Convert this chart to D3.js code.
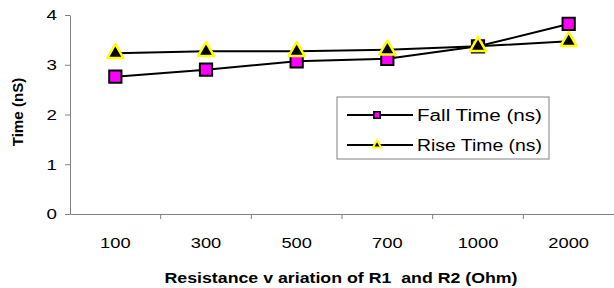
<!DOCTYPE html>
<html>
<head>
<meta charset="utf-8">
<script src="https://cdn.jsdelivr.net/npm/d3@7"></script>
<style>
  body { margin: 0; background: #fff; }
  text { font-family: "Liberation Sans", Arial, sans-serif; white-space: pre; }
</style>
</head>
<body>
<div id="chart"></div>
<script>
// values
const categories = ['100', '300', '500', '700', '1000', '2000'];
const fallTime = [2.76, 2.90, 3.07, 3.12, 3.37, 3.82];
const riseTime = [3.23, 3.27, 3.27, 3.30, 3.37, 3.47];
const yTicks = [0, 1, 2, 3, 4];

const width = 614;
const height = 288;
const margin = { left: 70, right: 0, top: 15, bottom: 74 };

const svg = d3.select('#chart').append('svg')
  .attr('width', width)
  .attr('height', height);

// the reference text is a bit wider than the font, stretch it
const stretch = (sel, factor) => {
  sel.each(function () {
    const len = this.getComputedTextLength();
    d3.select(this)
      .attr('textLength', len * factor)
      .attr('lengthAdjust', 'spacingAndGlyphs');
  });
};

const x = d3.scaleBand()
  .domain(categories)
  .range([margin.left, width - margin.right]);

const y = d3.scaleLinear()
  .domain([0, 4])
  .range([height - margin.bottom, margin.top]);

// axes
const yAxis = svg.append('g')
  .attr('transform', `translate(${margin.left},0)`)
  .call(d3.axisLeft(y).tickValues(yTicks).tickSize(5).tickSizeOuter(0).tickFormat(d3.format('d')));
yAxis.select('.domain').attr('stroke', '#808080');
yAxis.selectAll('.tick line').attr('stroke', '#808080');
yAxis.selectAll('.tick text')
  .attr('x', -13)
  .attr('font-size', 15)
  .attr('font-family', '"Liberation Sans", Arial, sans-serif')
  .attr('fill', '#000')
  .call(stretch, 1.25);

const xAxis = svg.append('g')
  .attr('transform', `translate(0,${y(0)})`)
  .call(d3.axisBottom(x).tickSize(0).tickSizeOuter(0));
xAxis.select('.domain').attr('stroke', '#808080');
xAxis.selectAll('.tick text')
  .attr('y', 23)
  .attr('font-size', 15)
  .attr('font-family', '"Liberation Sans", Arial, sans-serif')
  .attr('fill', '#000')
  .call(stretch, 1.22);

// tick marks between categories
xAxis.selectAll('.sep')
  .data(categories.slice(1))
  .enter()
  .append('line')
  .attr('x1', d => x(d))
  .attr('x2', d => x(d))
  .attr('y1', 0)
  .attr('y2', 5)
  .attr('stroke', '#808080');

// axis titles
svg.append('text')
  .attr('transform', 'translate(23,112) rotate(-90)')
  .attr('text-anchor', 'middle')
  .attr('font-size', 14)
  .attr('font-weight', 'bold')
  .text('Time (nS)')
  .call(stretch, 1.08);

svg.append('text')
  .attr('x', 341)
  .attr('y', 283)
  .attr('text-anchor', 'middle')
  .attr('font-size', 14)
  .attr('font-weight', 'bold')
  .attr('textLength', 353)
  .attr('lengthAdjust', 'spacingAndGlyphs')
  .text('Resistance v ariation of R1  and R2 (Ohm)');

const line = d3.line()
  .x((d, i) => x(categories[i]) + x.bandwidth() / 2)
  .y(d => y(d));

svg.append('path')
  .attr('d', line(fallTime))
  .attr('fill', 'none')
  .attr('stroke', '#000')
  .attr('stroke-width', 2);

svg.append('path')
  .attr('d', line(riseTime))
  .attr('fill', 'none')
  .attr('stroke', '#000')
  .attr('stroke-width', 2);

const square = d3.symbol().type(d3.symbolSquare);
const triangle = d3.symbol().type(d3.symbolTriangle);

svg.selectAll('.fall')
  .data(fallTime)
  .enter()
  .append('path')
  .attr('class', 'fall')
  .attr('d', square.size(150))
  .attr('transform', (d, i) => `translate(${x(categories[i]) + x.bandwidth() / 2},${y(d)})`)
  .attr('fill', '#ff00ff')
  .attr('stroke', '#000')
  .attr('stroke-width', 2);

svg.selectAll('.rise')
  .data(riseTime)
  .enter()
  .append('path')
  .attr('class', 'rise')
  .attr('d', triangle.size(110))
  .attr('transform', (d, i) => `translate(${x(categories[i]) + x.bandwidth() / 2},${y(d)})`)
  .attr('fill', '#000')
  .attr('stroke', '#ffff00')
  .attr('stroke-width', 2.5)
  .attr('stroke-linejoin', 'round');

// legend
const legend = svg.append('g').attr('transform', 'translate(337,97)');
legend.append('rect')
  .attr('width', 212)
  .attr('height', 62)
  .attr('fill', '#fff')
  .attr('stroke', '#808080');

const legendItems = [
  { name: 'Fall Time (ns)', symbol: square.size(40), fill: '#ff00ff', stroke: '#000', sw: 1.5 },
  { name: 'Rise Time (ns)', symbol: triangle.size(30), fill: '#000', stroke: '#ffff00', sw: 2 },
];

legendItems.forEach((item, i) => {
  const g = legend.append('g').attr('transform', `translate(0,${18 + i * 30})`);
  g.append('line')
    .attr('x1', 10).attr('x2', 76)
    .attr('stroke', '#000').attr('stroke-width', 2);
  g.append('path')
    .attr('d', item.symbol())
    .attr('transform', 'translate(40,0)')
    .attr('fill', item.fill)
    .attr('stroke', item.stroke)
    .attr('stroke-width', item.sw);
  g.append('text')
    .attr('x', 80)
    .attr('y', 6)
    .attr('font-size', 16)
    .attr('textLength', 125)
    .attr('lengthAdjust', 'spacingAndGlyphs')
    .text(item.name);
});
</script>
</body>
</html>
